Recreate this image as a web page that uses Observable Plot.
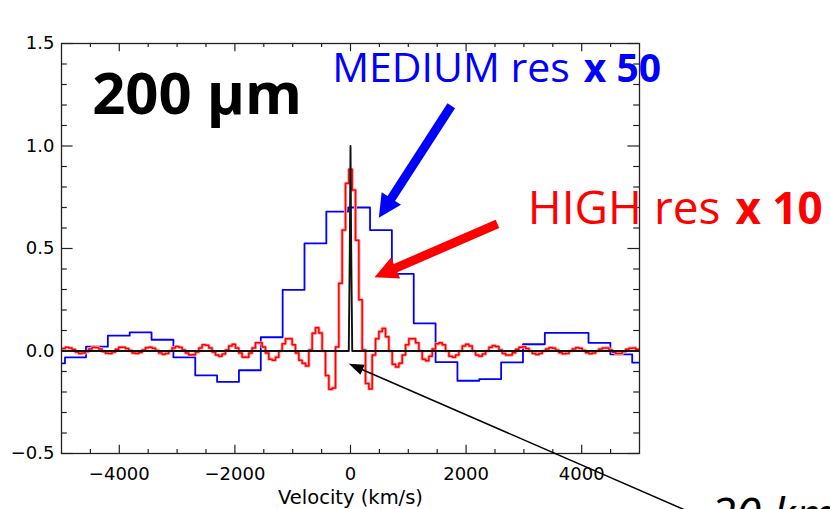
<!DOCTYPE html>
<html><head><meta charset="utf-8">
<script src="https://cdn.jsdelivr.net/npm/d3@7"></script>
<script src="https://cdn.jsdelivr.net/npm/@observablehq/plot@0.6"></script>
<style>
html,body{margin:0;padding:0;background:#fff;overflow:hidden;}
</style></head><body><div id="chart"></div>
<script>
// ---- data ----
// MEDIUM resolution (x50): bin edges (km/s) and flux per bin
const blueEdges = [-5000, -4940, -4576, -4198, -3820, -3442, -3064, -2686, -2308, -1930, -1552, -1174, -796, -418, -40, 338, 716, 1094, 1472, 1850, 2228, 2606, 2984, 3362, 3740, 4118, 4496, 4874, 5000];
const blueFlux = [-0.06, -0.031, 0.021, 0.075, 0.091, 0.055, -0.031, -0.119, -0.151, -0.094, 0.067, 0.298, 0.525, 0.68, 0.70, 0.59, 0.376, 0.135, -0.054, -0.145, -0.137, -0.055, 0.033, 0.088, 0.088, 0.04, -0.016, -0.057];

// HIGH resolution (x10): regular bins
const redFirstCenter = -4962;
const redBinWidth = 57.7;
const redFlux = [
 0.012, 0.018, 0.015, 0.007, -0.005, -0.012, -0.01, -0.003, 0.01, 0.018,
 0.017, 0.01, -0.002, -0.011, -0.012, -0.005, 0.008, 0.018, 0.018, 0.012,
 0.002, -0.01, -0.012, -0.007, 0.005, 0.016, 0.018, 0.014, 0.003, -0.01,
 -0.016, -0.012, 0.0, 0.015, 0.022, 0.018, 0.005, -0.01, -0.02, -0.018,
 -0.005, 0.015, 0.03, 0.028, 0.015, -0.005, -0.02, -0.025, -0.015, 0.005,
 0.025, 0.033, 0.015, -0.01, -0.03, -0.03, -0.01, 0.015, 0.04, 0.04,
 0.02, -0.01, -0.04, -0.045, -0.03, 0.0, 0.035, 0.06, 0.06, 0.03,
 -0.01, -0.045, -0.06, -0.073, 0.005, 0.086, 0.114, 0.088, 0.0, -0.12,
 -0.187, -0.18, 0.02, 0.33, 0.59, 0.818,
 0.886,
 0.785, 0.54, 0.25, 0.005, -0.158, -0.185, -0.02, 0.06, 0.095, 0.11,
 0.07, 0.0, -0.065, -0.078, -0.06, -0.02, 0.03, 0.06, 0.06, 0.04,
 0.0, -0.04, -0.047, -0.025, 0.01, 0.035, 0.04, 0.03, 0.0, -0.025,
 -0.03, -0.02, 0.0, 0.025, 0.033, 0.025, 0.0, -0.02, -0.025, -0.015,
 0.0, 0.018, 0.026, 0.022, 0.005, -0.012, -0.02, -0.02, -0.008, 0.008,
 0.018, 0.021, 0.012, 0.0, -0.012, -0.017, -0.012, 0.0, 0.01, 0.016,
 0.014, 0.004, -0.008, -0.014, -0.012, 0.0, 0.01, 0.016, 0.013, 0.003,
 -0.008, -0.013, -0.01, 0.0, 0.01, 0.015, 0.015, 0.005, -0.006, -0.012,
 -0.012, -0.003, 0.008, 0.014, 0.015, 0.008
];

// 20 km/s reference line (black)
const blackVelocity = [-5000, -30, -12, 0, 12, 30, 5000];
const blackFlux = [0, 0, 0.5, 1.0, 0.5, 0, 0];

// ticks
const xMajorTicks = [-4000, -2000, 0, 2000, 4000];
const xMinorTicks = [-4500, -3500, -3000, -2500, -1500, -1000, -500, 500, 1000, 1500, 2500, 3000, 3500, 4500];
const yMajorTicks = [-0.5, 0, 0.5, 1.0, 1.5];
const yMinorTicks = [-0.4, -0.3, -0.2, -0.1, 0.1, 0.2, 0.3, 0.4, 0.6, 0.7, 0.8, 0.9, 1.1, 1.2, 1.3, 1.4];

// ---- build ----
const bluePoints = blueFlux.map((f, i) => ({v: blueEdges[i], f}));
bluePoints.push({v: blueEdges[blueEdges.length - 1], f: blueFlux[blueFlux.length - 1]});

const redPoints = redFlux.map((f, i) => ({v: redFirstCenter + i * redBinWidth - redBinWidth / 2, f}));
redPoints.push({v: redFirstCenter + (redFlux.length - 1) * redBinWidth + redBinWidth / 2, f: redFlux[redFlux.length - 1]});

const blackPoints = blackVelocity.map((v, i) => ({v, f: blackFlux[i]}));

const W = 830, H = 509, mL = 61, mR = 191, mT = 43, mB = 56;
const plotW = W - mL - mR, plotH = H - mT - mB;
const xMajLen = 8.2, xMinLen = 4.1, yMajLen = 11.6, yMinLen = 5.8;
const frameColor = "#222";

function arrowShape(shaftW, headW, headL) {
  return {
    draw(context, l) {
      const s = shaftW / 2, h = headW / 2, b = -(l - headL);
      context.moveTo(-s, 0);
      context.lineTo(-s, b);
      context.lineTo(-h, b);
      context.lineTo(0, -l);
      context.lineTo(h, b);
      context.lineTo(s, b);
      context.lineTo(s, 0);
      context.closePath();
    }
  };
}

const annFont = "'Open Sans', 'Noto Sans', sans-serif";

const chart = Plot.plot({
  width: W, height: H,
  marginLeft: mL, marginRight: mR, marginTop: mT, marginBottom: mB,
  x: {domain: [-5000, 5000]},
  y: {domain: [-0.5, 1.5]},
  style: {background: "white", fontFamily: "'DejaVu Sans', sans-serif", fontSize: "18px", color: "#000"},
  marks: [
    // data
    Plot.line(bluePoints, {x: "v", y: "f", curve: "step-after", stroke: "#0000ff", strokeWidth: 1.8, clip: true}),
    Plot.line(redPoints, {x: "v", y: "f", curve: "step-after", stroke: "#ffa0a0", strokeWidth: 3.2, clip: true}),
    Plot.line(redPoints, {x: "v", y: "f", curve: "step-after", stroke: "#ff0000", strokeWidth: 1.5, clip: true}),
    Plot.line(blackPoints, {x: "v", y: "f", stroke: "#111", strokeWidth: 1.9, clip: true}),
    // frame and inward ticks
    Plot.frame({stroke: frameColor, strokeWidth: 1.3}),
    Plot.tickX(xMajorTicks, {x: d => d, insetTop: plotH - xMajLen, stroke: frameColor, strokeWidth: 1.2}),
    Plot.tickX(xMajorTicks, {x: d => d, insetBottom: plotH - xMajLen, stroke: frameColor, strokeWidth: 1.2}),
    Plot.tickX(xMinorTicks, {x: d => d, insetTop: plotH - xMinLen, stroke: frameColor, strokeWidth: 1.2}),
    Plot.tickX(xMinorTicks, {x: d => d, insetBottom: plotH - xMinLen, stroke: frameColor, strokeWidth: 1.2}),
    Plot.tickY(yMajorTicks, {y: d => d, insetRight: plotW - yMajLen, stroke: frameColor, strokeWidth: 1.2}),
    Plot.tickY(yMajorTicks, {y: d => d, insetLeft: plotW - yMajLen, stroke: frameColor, strokeWidth: 1.2}),
    Plot.tickY(yMinorTicks, {y: d => d, insetRight: plotW - yMinLen, stroke: frameColor, strokeWidth: 1.2}),
    Plot.tickY(yMinorTicks, {y: d => d, insetLeft: plotW - yMinLen, stroke: frameColor, strokeWidth: 1.2}),
    // tick labels
    Plot.axisX({ticks: xMajorTicks, tickSize: 0, tickPadding: 14, tickFormat: d3.format("d"), label: null, fontSize: 18}),
    Plot.axisY({ticks: yMajorTicks, tickSize: 0, tickPadding: 7, tickFormat: d3.format(".1f"), label: null, fontSize: 18}),
    Plot.text([{v: 0, f: -0.5}], {x: "v", y: "f", text: () => "Velocity (km/s)", dy: 50, lineAnchor: "bottom", fontSize: 19.5}),
    // annotations
    Plot.text([{v: -4469, f: 1.154}], {x: "v", y: "f", text: () => "200 μm", textAnchor: "start", lineAnchor: "bottom", fontSize: 58, fontWeight: "bold", fontFamily: annFont, fill: "#000"}),
    Plot.text([{v: 3794, f: 1.311}], {x: "v", y: "f", text: () => "MEDIUM res", textAnchor: "end", lineAnchor: "bottom", fontSize: 41, fontFamily: annFont, fill: "#0000ff"}),
    Plot.text([{v: 4036, f: 1.311}], {x: "v", y: "f", text: () => "x 50", textAnchor: "start", lineAnchor: "bottom", fontSize: 39, fontWeight: "bold", fontFamily: annFont, fill: "#0000ff"}),
    Plot.text([{v: 6401, f: 0.6205}], {x: "v", y: "f", text: () => "HIGH res", textAnchor: "end", lineAnchor: "bottom", fontSize: 46, fontFamily: annFont, fill: "#ff0000"}),
    Plot.text([{v: 6661, f: 0.6205}], {x: "v", y: "f", text: () => "x 10", textAnchor: "start", lineAnchor: "bottom", fontSize: 44, fontWeight: "bold", fontFamily: annFont, fill: "#ff0000"}),
    Plot.text([{v: 6228, f: -0.876}], {x: "v", y: "f", text: () => "20 km/s", textAnchor: "start", lineAnchor: "bottom", fontSize: 46, fontStyle: "italic", fontFamily: annFont, fill: "#000"}),
    // arrows
    Plot.vector([{v: 490, f: 0.65}], {x: "v", y: "f", length: 133.4, rotate: 212.9, anchor: "end", shape: arrowShape(9, 23, 23), fill: "#0000ff", stroke: "none"}),
    Plot.vector([{v: 415, f: 0.36}], {x: "v", y: "f", length: 134, rotate: 246.6, anchor: "end", shape: arrowShape(9, 23, 23), fill: "#ff0000", stroke: "none"}),
    Plot.vector([{v: -29, f: -0.0624}], {x: "v", y: "f", length: 383.6, rotate: 293.5, anchor: "end", shape: arrowShape(1.5, 11, 15), fill: "#000", stroke: "none"})
  ]
});
document.getElementById("chart").appendChild(chart);
</script>
</body></html>
